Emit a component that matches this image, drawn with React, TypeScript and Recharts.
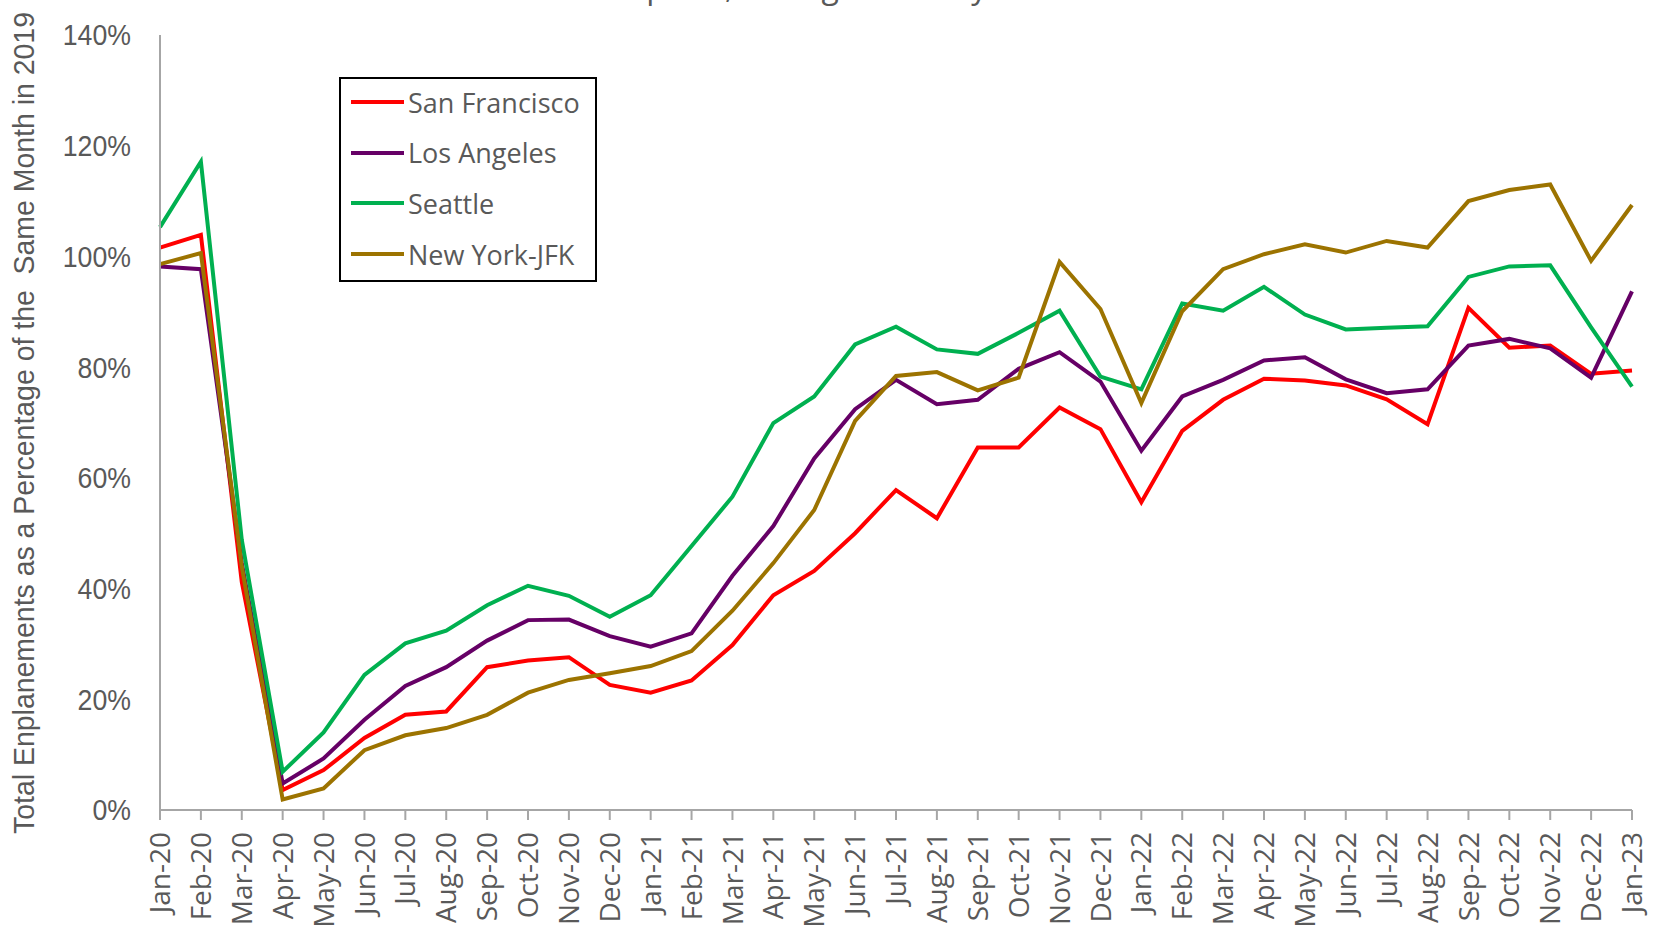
import { LineChart, Line, XAxis, YAxis, Legend, Customized } from 'recharts'

const months = [
  'Jan-20', 'Feb-20', 'Mar-20', 'Apr-20', 'May-20', 'Jun-20', 'Jul-20', 'Aug-20', 'Sep-20', 'Oct-20', 'Nov-20', 'Dec-20',
  'Jan-21', 'Feb-21', 'Mar-21', 'Apr-21', 'May-21', 'Jun-21', 'Jul-21', 'Aug-21', 'Sep-21', 'Oct-21', 'Nov-21', 'Dec-21',
  'Jan-22', 'Feb-22', 'Mar-22', 'Apr-22', 'May-22', 'Jun-22', 'Jul-22', 'Aug-22', 'Sep-22', 'Oct-22', 'Nov-22', 'Dec-22',
  'Jan-23',
]

const sanFrancisco = [
  101.6, 103.9, 41.2, 3.6, 7.2, 13.0, 17.2, 17.8, 25.8, 27.0, 27.6, 22.6,
  21.2, 23.4, 29.8, 38.8, 43.2, 50.0, 57.8, 52.7, 65.5, 65.5, 72.7, 68.8,
  55.6, 68.5, 74.1, 77.9, 77.6, 76.7, 74.2, 69.7, 90.7, 83.5, 83.9, 78.8,
  79.4,
]

const losAngeles = [
  98.2, 97.7, 44.6, 4.8, 9.3, 16.3, 22.4, 25.8, 30.6, 34.3, 34.4, 31.4,
  29.5, 31.9, 42.3, 51.3, 63.5, 72.4, 77.7, 73.3, 74.1, 79.7, 82.7, 77.4,
  64.9, 74.7, 77.7, 81.2, 81.8, 77.8, 75.3, 76.0, 83.9, 85.1, 83.4, 78.1,
  93.7,
]

const seattle = [
  105.3, 117.1, 48.8, 6.9, 14.0, 24.4, 30.1, 32.4, 37.0, 40.5, 38.7, 34.9,
  38.8, 47.7, 56.6, 69.9, 74.7, 84.1, 87.3, 83.2, 82.4, 86.2, 90.2, 78.3,
  76.0, 91.5, 90.2, 94.5, 89.5, 86.8, 87.1, 87.4, 96.3, 98.2, 98.4, 87.2,
  76.5,
]

const newYorkJfk = [
  98.6, 100.6, 44.0, 1.9, 3.9, 10.8, 13.5, 14.8, 17.2, 21.2, 23.5, 24.7,
  26.0, 28.7, 36.0, 44.6, 54.2, 70.3, 78.4, 79.1, 75.8, 78.1, 99.0, 90.5,
  73.5, 90.1, 97.7, 100.4, 102.2, 100.7, 102.8, 101.6, 110.0, 112.0, 113.0, 99.2,
  109.3,
]

const yTicks = [0, 20, 40, 60, 80, 100, 120, 140]

const series = [
  { key: 'sf', name: 'San Francisco', color: '#FF0000', values: sanFrancisco },
  { key: 'la', name: 'Los Angeles', color: '#660066', values: losAngeles },
  { key: 'sea', name: 'Seattle', color: '#00B050', values: seattle },
  { key: 'jfk', name: 'New York-JFK', color: '#9C7300', values: newYorkJfk },
]

const data = months.map((m, i) => {
  const row: any = { month: m }
  series.forEach(s => { row[s.key] = s.values[i] })
  return row
})

const grey = '#595959'
const sans = '"Liberation Sans", Arial, sans-serif'

const MonthTick = ({ x, payload }: any) => (
  <g transform={`translate(${x},832)`}>
    <text
      transform="rotate(-90)"
      x={0}
      y={0}
      dy="0.36em"
      textAnchor="end"
      fill={grey}
      style={{ fontFamily: '"Open Sans", sans-serif', fontSize: 28 }}
    >
      {payload.value}
    </text>
  </g>
)

// Calibri-like percent labels: Liberation Sans squeezed a little
const PercentTick = ({ x, y, payload }: any) => (
  <g transform={`translate(${x},${y}) scale(0.92,1)`}>
    <text x={0} y={0} dy="0.36em" textAnchor="end" fill={grey} style={{ fontFamily: sans, fontSize: 29 }}>
      {`${payload.value}%`}
    </text>
  </g>
)

const LegendBox = () => (
  <div
    style={{
      width: 258,
      height: 205,
      boxSizing: 'border-box',
      border: '2px solid #000',
      background: '#fff',
    }}
  >
    <div style={{ position: 'relative', top: -2 }}>
      {series.map(s => (
        <div key={s.key} style={{ height: 50.6, display: 'flex', alignItems: 'center' }}>
          <div style={{ width: 53, height: 4, background: s.color, marginLeft: 10, marginRight: 4 }} />
          <span style={{ fontFamily: '"Open Sans", sans-serif', fontSize: 27, color: grey, lineHeight: 1 }}>
            {s.name}
          </span>
        </div>
      ))}
    </div>
  </div>
)

const Texts = () => (
  <g>
    <text
      x={713}
      y={-2}
      textAnchor="middle"
      fill={grey}
      style={{ fontFamily: '"Open Sans", sans-serif', fontSize: 32 }}
    >
      Traffic at Selected Airports, during COVID by Month
    </text>
    <text
      transform="translate(24,423) rotate(-90)"
      x={0}
      y={0}
      textAnchor="middle"
      dominantBaseline="central"
      textLength={822}
      lengthAdjust="spacingAndGlyphs"
      fill={grey}
      style={{ fontFamily: sans, fontSize: 29, whiteSpace: 'pre' }}
    >
      {'Total Enplanements as a Percentage of the  Same Month in 2019'}
    </text>
  </g>
)

export default function App() {
  return (
    <div style={{ position: 'absolute', left: 0, top: 0, width: 1662, height: 930, background: '#fff' }}>
      <LineChart
        width={1662}
        height={930}
        data={data}
        margin={{ top: 35, right: 30, bottom: 0, left: 0 }}
        style={{ overflow: 'visible' }}
      >
        <XAxis
          dataKey="month"
          interval={0}
          height={120}
          tickSize={10}
          tickLine={{ stroke: '#a6a6a6', strokeWidth: 2 }}
          axisLine={{ stroke: '#a6a6a6', strokeWidth: 2 }}
          tick={<MonthTick />}
        />
        <YAxis
          width={160}
          domain={[0, 140]}
          ticks={yTicks}
          tickLine={false}
          tickSize={6}
          tickMargin={23}
          axisLine={{ stroke: '#a6a6a6', strokeWidth: 2 }}
          tick={<PercentTick />}
        />
        <Legend
          layout="horizontal"
          verticalAlign="middle"
          align="center"
          content={<LegendBox />}
          wrapperStyle={{ left: 339, top: 77, width: 258, height: 205 }}
        />
        {series.map(s => (
          <Line
            key={s.key}
            type="linear"
            dataKey={s.key}
            name={s.name}
            stroke={s.color}
            strokeWidth={4}
            dot={false}
            activeDot={false}
            isAnimationActive={false}
          />
        ))}
        <Customized component={<Texts />} />
      </LineChart>
    </div>
  )
}
